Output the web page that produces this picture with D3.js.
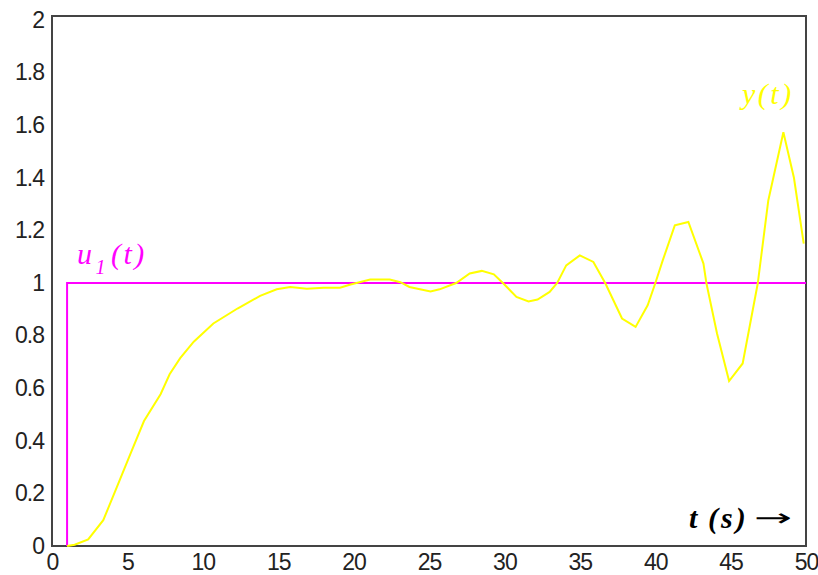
<!DOCTYPE html>
<html lang="en">
<head>
  <meta charset="UTF-8">
  <script src="https://cdn.jsdelivr.net/npm/d3@7/dist/d3.min.js"></script>
  <style>
    body { margin: 0; background: #fff; }
    .tick text { font-family: "Liberation Sans", Arial, sans-serif; font-size: 23px; letter-spacing: -1px; fill: #222; }
  </style>
</head>
<body>
  <svg id="chart" width="818" height="575"></svg>
  <script>
    // tick values
    var xTicks = [0, 5, 10, 15, 20, 25, 30, 35, 40, 45, 50];
    var yTicks = [0, 0.2, 0.4, 0.6, 0.8, 1, 1.2, 1.4, 1.6, 1.8, 2];

    // step input u1(t)
    var uT = [1, 1, 50];
    var uV = [0, 1, 1];

    // response y(t)
    var yT = [1.0, 1.5, 2.4, 3.4, 4.3, 5.2, 6.1, 7.2, 7.8, 8.5, 9.4, 10.7, 12.3, 13.8, 14.9, 15.8,
              16.9, 18.0, 19.1, 19.8, 21.1, 22.4, 23.1, 23.7, 25.1, 25.7, 26.8, 27.7, 28.5, 29.3,
              29.9, 30.8, 31.6, 32.2, 33.0, 33.5, 34.1, 35.0, 35.9, 36.7, 37.8, 38.7, 39.5, 40.0,
              40.5, 41.3, 42.2, 43.2, 43.4, 44.1, 44.9, 45.8, 46.3, 46.8, 47.5, 48.5, 49.2, 49.85];
    var yV = [0, 0.005, 0.025, 0.098, 0.224, 0.35, 0.475, 0.577, 0.653, 0.714, 0.777, 0.846, 0.903, 0.951, 0.976, 0.985,
              0.978, 0.982, 0.982, 0.994, 1.013, 1.013, 1.003, 0.985, 0.968, 0.976, 1.0, 1.036, 1.046, 1.033,
              1.0, 0.947, 0.93, 0.937, 0.966, 1.0, 1.067, 1.105, 1.08, 0.998, 0.865, 0.833, 0.915, 0.998,
              1.086, 1.219, 1.232, 1.074, 0.998, 0.808, 0.627, 0.694, 0.846, 0.998, 1.314, 1.573, 1.40, 1.15];

    var svg = d3.select('#chart');
    var x = d3.scaleLinear().domain([0, 50]).range([52, 806]);
    var y = d3.scaleLinear().domain([0, 2]).range([546, 20]);

    var xAxis = svg.append('g').attr('transform', 'translate(0,546)')
      .call(d3.axisBottom(x).tickValues(xTicks).tickSize(0).tickPadding(8).tickFormat(d3.format('d')));
    xAxis.select('.domain').remove();
    xAxis.selectAll('text').attr('dy', '0.71em');

    var yAxis = svg.append('g').attr('transform', 'translate(52,0)')
      .call(d3.axisLeft(y).tickValues(yTicks).tickSize(0).tickPadding(8).tickFormat(d => String(+d.toFixed(1))));
    yAxis.select('.domain').remove();

    // plot frame
    svg.append('rect').attr('x', 52).attr('y', 16).attr('width', 754).attr('height', 530)
      .attr('fill', 'none').attr('stroke', '#444').attr('stroke-width', 2);

    var line = d3.line().x(d => x(d[0])).y(d => y(d[1]));

    svg.append('path').datum(uT.map((t, i) => [t, uV[i]]))
      .attr('d', line).attr('fill', 'none').attr('stroke', '#ff00ff').attr('stroke-width', 2);

    svg.append('path').datum(yT.map((t, i) => [t, yV[i]]))
      .attr('d', line).attr('fill', 'none').attr('stroke', '#ffff00').attr('stroke-width', 2);

    // labels
    var uLab = svg.append('text').attr('x', 77).attr('y', 264)
      .attr('font-family', '"Liberation Serif", serif').attr('font-style', 'italic')
      .attr('font-size', 30).attr('letter-spacing', 2.5).attr('fill', '#ff00ff');
    uLab.append('tspan').text('u');
    uLab.append('tspan').attr('font-size', 20).attr('dy', 10).attr('dx', 1).text('1');
    uLab.append('tspan').attr('dy', -10).attr('dx', 3).text('(t)');

    svg.append('text').attr('x', 742).attr('y', 104)
      .attr('font-family', '"Liberation Serif", serif').attr('font-style', 'italic')
      .attr('font-size', 30).attr('letter-spacing', 2.5).attr('fill', '#ffff00').text('y(t)');

    var tLab = svg.append('text').attr('x', 689).attr('y', 528)
      .attr('font-family', '"Liberation Serif", serif').attr('font-style', 'italic')
      .attr('font-weight', 'bold').attr('font-size', 30).attr('fill', '#000');
    tLab.append('tspan').text('t');
    tLab.append('tspan').attr('x', 708).attr('letter-spacing', 3).text('(s)');
    svg.append('text').attr('x', 754).attr('y', 526)
      .attr('font-family', '"DejaVu Sans", sans-serif').attr('font-size', 24)
      .attr('textLength', 38).attr('lengthAdjust', 'spacingAndGlyphs').text('→');
  </script>
</body>
</html>
